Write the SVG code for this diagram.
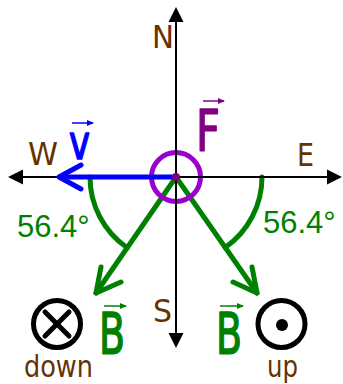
<svg xmlns="http://www.w3.org/2000/svg" width="343" height="384" viewBox="0 0 343 384">
<style>
.lbl{font-family:"DejaVu Sans","Liberation Sans",sans-serif;fill:#663300}
.g{stroke:#008000;stroke-width:5;fill:none;stroke-linecap:round;stroke-linejoin:round}
.blk{stroke:#000;stroke-width:5;fill:none;stroke-linecap:round}
.vec{stroke-width:1.5;fill:none}
.big{font-family:"DejaVu Sans","Liberation Sans",sans-serif}
.ang{font-family:"Liberation Sans",Arial,sans-serif;font-size:31px;fill:#008000}
.thick{stroke-width:1.6;stroke-linejoin:round}
</style>
<defs>
<marker id="hg" markerUnits="userSpaceOnUse" markerWidth="7" markerHeight="6" refX="6" refY="3" orient="auto"><path d="M0,0 L7,3 L0,6 z" fill="#008000"/></marker>
<marker id="hb" markerUnits="userSpaceOnUse" markerWidth="7" markerHeight="6" refX="6" refY="3" orient="auto"><path d="M0,0 L7,3 L0,6 z" fill="#0000FF"/></marker>
<marker id="hp" markerUnits="userSpaceOnUse" markerWidth="7" markerHeight="6" refX="6" refY="3" orient="auto"><path d="M0,0 L7,3 L0,6 z" fill="#800080"/></marker>
</defs>
<g id="angles">
<path class="g" d="M90 177 A86 86 0 0 0 127.2 247.8"/>
<path class="g" d="M262 177 A86 86 0 0 1 225.2 247.5"/>
<text class="ang" x="17" y="237">56.4°</text>
<text class="ang" x="263" y="233">56.4°</text>
</g>
<g id="connectors">
<g id="B-left-arrow">
<line class="g" x1="176" y1="177" x2="96" y2="293"/>
<polyline class="g" points="101,267 96,293 121,282"/>
</g>
<g id="B-right-arrow">
<line class="g" x1="176" y1="177" x2="257" y2="293"/>
<polyline class="g" points="252,267 257,293 233,282"/>
</g>
</g>
<g id="F-circle">
<circle cx="176" cy="177" r="24.5" fill="none" stroke="#9900CC" stroke-width="5"/>
</g>
<g id="axes">
<line x1="176" y1="20" x2="176" y2="335" stroke="#000" stroke-width="2"/>
<line x1="21" y1="177" x2="330" y2="177" stroke="#000" stroke-width="2"/>
<polygon points="176,7 168.5,22 183.5,22" fill="#000"/>
<polygon points="176,348 168.5,333 183.5,333" fill="#000"/>
<polygon points="8,177 23,169.5 23,184.5" fill="#000"/>
<polygon points="342,177 327,169.5 327,184.5" fill="#000"/>
<text class="lbl" x="152" y="48" font-size="32" textLength="22" lengthAdjust="spacingAndGlyphs">N</text>
<text class="lbl" x="28" y="165" font-size="32" textLength="30" lengthAdjust="spacingAndGlyphs">W</text>
<text class="lbl" x="297" y="166" font-size="32" textLength="17" lengthAdjust="spacingAndGlyphs">E</text>
<text class="lbl" x="153" y="322" font-size="32" textLength="19" lengthAdjust="spacingAndGlyphs">S</text>
</g>
<g id="v-arrow">
<line x1="176" y1="177" x2="60" y2="177" stroke="#0000FF" stroke-width="5" stroke-linecap="round"/>
<polyline points="81,165 59,177 81,189" fill="none" stroke="#0000FF" stroke-width="5" stroke-linecap="round" stroke-linejoin="round"/>
<text class="big thick" x="69" y="159" font-size="48" fill="#0000FF" stroke="#0000FF" textLength="21" lengthAdjust="spacingAndGlyphs">v</text>
<line class="vec" x1="72" y1="123" x2="93" y2="123" stroke="#0000FF" marker-end="url(#hb)"/>
</g>
<g id="F-label">
<circle cx="176" cy="177" r="4" fill="#800080"/>
<text class="big thick" x="196" y="151" font-size="57" fill="#800080" stroke="#800080" textLength="24" lengthAdjust="spacingAndGlyphs">F</text>
<line class="vec" x1="203" y1="101" x2="224" y2="101" stroke="#800080" marker-end="url(#hp)"/>
</g>
<g id="B-left">
<text class="big thick" x="99" y="354" font-size="57" fill="#008000" stroke="#008000" textLength="26" lengthAdjust="spacingAndGlyphs">B</text>
<line class="vec" x1="104" y1="306" x2="126" y2="306" stroke="#008000" marker-end="url(#hg)"/>
</g>
<g id="B-right">
<text class="big thick" x="216" y="354" font-size="57" fill="#008000" stroke="#008000" textLength="26" lengthAdjust="spacingAndGlyphs">B</text>
<line class="vec" x1="220" y1="306" x2="243" y2="306" stroke="#008000" marker-end="url(#hg)"/>
</g>
<g id="down">
<circle cx="57" cy="324" r="23.5" fill="none" stroke="#000" stroke-width="5"/>
<line class="blk" x1="45" y1="312" x2="69" y2="336"/>
<line class="blk" x1="69" y1="312" x2="45" y2="336"/>
<text class="lbl" x="24" y="377" font-size="31" textLength="69" lengthAdjust="spacingAndGlyphs">down</text>
</g>
<g id="up">
<circle cx="281.5" cy="324" r="23.5" fill="none" stroke="#000" stroke-width="5"/>
<circle cx="282" cy="325" r="6" fill="#000"/>
<text class="lbl" x="267" y="377" font-size="31" textLength="31" lengthAdjust="spacingAndGlyphs">up</text>
</g>
</svg>
